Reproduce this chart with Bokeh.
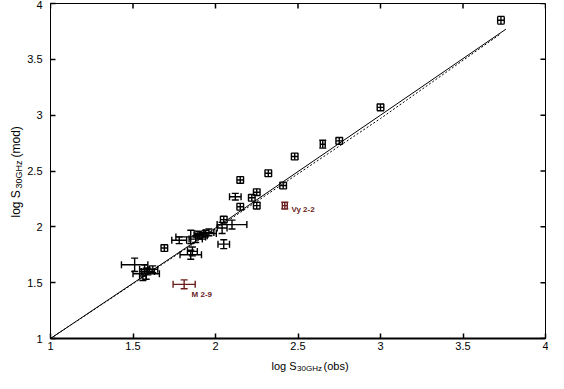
import math
from bokeh.plotting import figure
from bokeh.layouts import row, column
from bokeh.models import ColumnDataSource, Whisker, TeeHead, FixedTicker, Range1d
from bokeh.core.properties import value
from bokeh.embed import file_html
from bokeh.resources import INLINE

# ---- data: log S30GHz observed vs model ----
obs = [3.73, 3.00, 2.75, 2.65, 2.48, 2.32, 2.15, 2.41, 2.25, 2.12, 2.22, 2.25, 2.15,
       2.05, 2.04, 2.10, 2.05, 1.94, 1.92, 1.88, 1.85, 1.78, 1.69, 1.85, 1.86,
       1.51, 1.57, 1.58, 1.56, 1.59, 1.62, 1.96, 1.90]
mod = [3.85, 3.07, 2.77, 2.74, 2.63, 2.48, 2.42, 2.37, 2.31, 2.27, 2.26, 2.19, 2.18,
       2.065, 1.99, 2.02, 1.845, 1.94, 1.92, 1.89, 1.91, 1.88, 1.81, 1.75, 1.78,
       1.66, 1.62, 1.58, 1.56, 1.60, 1.62, 1.95, 1.93]
obs_err = [0.02, 0.02, 0.02, 0.015, 0.02, 0.02, 0.02, 0.02, 0.02, 0.035, 0.02, 0.02, 0.02,
           0.02, 0.03, 0.09, 0.035, 0.065, 0.03, 0.04, 0.09, 0.045, 0.02, 0.065, 0.03,
           0.08, 0.03, 0.08, 0.02, 0.04, 0.03, 0.03, 0.03]
mod_err = [0.035, 0.03, 0.03, 0.035, 0.03, 0.03, 0.03, 0.03, 0.03, 0.03, 0.03, 0.03, 0.03,
           0.03, 0.05, 0.04, 0.04, 0.03, 0.03, 0.03, 0.06, 0.03, 0.03, 0.04, 0.04,
           0.06, 0.04, 0.05, 0.04, 0.03, 0.03, 0.03, 0.03]

special_names = ["M 2-9", "Vy 2-2"]
special_obs = [1.81, 2.42]
special_mod = [1.485, 2.19]
special_obs_err = [0.067, 0.015]
special_mod_err = [0.04, 0.03]
special_label_obs = [1.855, 2.46]
special_label_mod = [1.395, 2.155]

fit_obs_a = [1.0, 2.0, 3.0, 3.76]
fit_mod_a = [1.0, 1.99, 3.0, 3.77]
fit_obs_b = [1.0, 2.0, 3.0, 3.72]
fit_mod_b = [1.0, 1.98, 2.97, 3.72]

tick_values = [1, 1.5, 2, 2.5, 3, 3.5, 4]
axis_min, axis_max = 1, 4

x_title = ["log S", "30GHz", "(obs)"]
y_title = ["log S", "30GHz", "(mod)"]

FONT = "Liberation Sans"
SPECIAL = "#6a1e1e"

YLAB_W = 24
XLAB_H = 19
MAIN_W = 548 - YLAB_W
MAIN_H = 373 - XLAB_H

p = figure(width=MAIN_W, height=MAIN_H, output_backend="svg", toolbar_location=None,
           x_range=Range1d(axis_min, axis_max), y_range=Range1d(axis_min, axis_max),
           min_border_left=26, min_border_right=3, min_border_top=3, min_border_bottom=16)
p.xgrid.visible = False
p.ygrid.visible = False
p.outline_line_color = "black"
p.outline_line_width = 1
p.background_fill_color = "white"
p.border_fill_color = "white"

for ax in (p.xaxis[0], p.yaxis[0]):
    ax.ticker = FixedTicker(ticks=tick_values)
    ax.major_tick_in = 5
    ax.major_tick_out = 0
    ax.minor_tick_line_color = None
    ax.major_label_text_font = FONT
    ax.major_label_text_font_size = "11px"
    ax.major_label_text_color = "black"
    ax.axis_line_color = "black"
    ax.major_tick_line_color = "black"
    ax.major_tick_line_width = 1.5
p.xaxis[0].major_label_standoff = 3
p.yaxis[0].major_label_standoff = 8
p.xaxis[0].axis_line_width = 2

# mirror ticks on top and right edges
p.ray(x=tick_values, y=[axis_max] * len(tick_values), length=5, length_units="screen",
      angle=-math.pi / 2, line_color="black", line_width=1.5)
p.ray(x=[axis_max] * len(tick_values), y=tick_values, length=5, length_units="screen",
      angle=math.pi, line_color="black", line_width=1.5)

# model lines
p.line(fit_obs_a, fit_mod_a, line_color="black", line_width=1)
p.line(fit_obs_b, fit_mod_b, line_color="black", line_width=1, line_dash="2 2")

def add_errors(xs, ys, xe, ye, color):
    src = ColumnDataSource(dict(
        x=xs, y=ys,
        xl=[a - b for a, b in zip(xs, xe)], xu=[a + b for a, b in zip(xs, xe)],
        yl=[a - b for a, b in zip(ys, ye)], yu=[a + b for a, b in zip(ys, ye)]))
    for base, lo, hi, dim in (("x", "yl", "yu", "height"), ("y", "xl", "xu", "width")):
        p.add_layout(Whisker(source=src, base=base, lower=lo, upper=hi, dimension=dim,
                             line_color=color, line_width=1.4,
                             upper_head=TeeHead(size=7, line_color=color, line_width=1.4),
                             lower_head=TeeHead(size=7, line_color=color, line_width=1.4)))

add_errors(obs, mod, obs_err, mod_err, "black")
add_errors(special_obs, special_mod, special_obs_err, special_mod_err, SPECIAL)

p.text(special_label_obs, special_label_mod, text=special_names, text_font=value(FONT),
       text_font_size="8px", text_color=SPECIAL, text_baseline="middle", text_align="left",
       text_font_style="bold")

def label_fig(w, h):
    f = figure(width=w, height=h, output_backend="svg", toolbar_location=None,
               x_range=Range1d(0, w), y_range=Range1d(0, h),
               x_axis_type=None, y_axis_type=None,
               min_border_left=0, min_border_right=0, min_border_top=0, min_border_bottom=0)
    f.xgrid.visible = False
    f.ygrid.visible = False
    f.outline_line_color = None
    f.background_fill_color = "white"
    f.border_fill_color = "white"
    return f

# x-axis title (pixel positions inside its strip)
xf = label_fig(MAIN_W, XLAB_H)
xf.text(x=[234, 261, 289], y=[8, 5, 8], text=x_title, text_font=value(FONT),
        text_font_size=["11px", "8px", "11px"], text_color="black",
        text_align="left", text_baseline="alphabetic")

# y-axis title, rotated
yf = label_fig(YLAB_W, MAIN_H)
yf.text(x=[15, 18, 15], y=[137, 166, 197], text=y_title, text_font=value(FONT),
        text_font_size=["12px", "9px", "12px"], text_color="black", angle=math.pi / 2,
        text_align="left", text_baseline="alphabetic")

layout = row(yf, column(p, xf, spacing=0), spacing=0)

open("out.html", "w").write(file_html(layout, INLINE))
